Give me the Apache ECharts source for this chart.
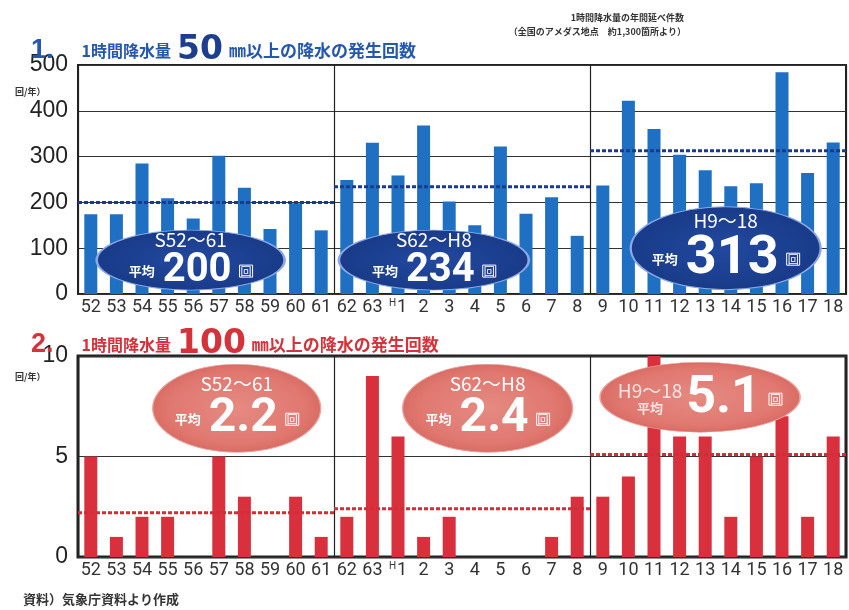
<!DOCTYPE html>
<html>
<head>
<meta charset="utf-8">
<script src="https://cdn.jsdelivr.net/npm/echarts@6/dist/echarts.min.js"></script>
<style>
  html, body { margin: 0; padding: 0; background: #fff; }
  #main { width: 849px; height: 610px; }
</style>
</head>
<body>
<div id="main"></div>
<script>
// years (Showa 52 .. 63, Heisei 1 .. 18)
var years = ['52', '53', '54', '55', '56', '57', '58', '59', '60', '61',
             '62', '63', 'H1', '2', '3', '4', '5', '6', '7', '8',
             '9', '10', '11', '12', '13', '14', '15', '16', '17', '18'];

// 1 hour rainfall >= 50mm, count per year
var over50 = [174, 174, 285, 209, 165, 302, 232, 142, 198, 139,
              249, 330, 259, 368, 202, 150, 322, 175, 211, 127,
              237, 422, 360, 304, 270, 235, 242, 484, 264, 331];

// 1 hour rainfall >= 100mm, count per year
var over100 = [5, 1, 2, 2, 0, 5, 3, 0, 3, 1,
               2, 9, 6, 1, 2, 0, 0, 0, 1, 3,
               3, 4, 10, 6, 6, 2, 5, 7, 2, 6];

var periods = ['S52～61', 'S62～H8', 'H9～18'];
var periodFrom = [0, 10, 20];
var periodTo = [10, 20, 30];
var avg50 = [200, 234, 313];
var avg100 = ['2.2', '2.4', '5.1'];

// where the average bubbles sit (in axis units) and how big they are
var ovals50 = [
  { x: 4.4, y: 74, w: 188, h: 60, big: 40 },
  { x: 13.9, y: 74, w: 190, h: 60, big: 40 },
  { x: 25.3, y: 100, w: 190, h: 83, big: 54 }
];
var ovals100 = [
  { x: 6.2, y: 7.4, w: 168, h: 88, big: 48 },
  { x: 16.0, y: 7.4, w: 170, h: 88, big: 48 },
  { x: 24.3, y: 7.95, w: 200, h: 70, big: 52, side: true }
];

var blue = '#1f70c2';
var red = '#d8313d';

var myChart = echarts.init(document.getElementById('main'));

function xLabelFmt(v) {
  return v === 'H1' ? '{h|H}1' : v;
}

var xLabel = {
  interval: 0,
  margin: 4,
  color: '#333',
  fontSize: 18,
  fontFamily: 'Roboto',
  formatter: xLabelFmt,
  rich: { h: { fontSize: 10, color: '#333', fontFamily: 'Roboto', verticalAlign: 'top', padding: [0, 1, 8, 0] } }
};

function yAxisOpt(grid, max, interval) {
  return {
    gridIndex: grid, type: 'value', min: 0, max: max, interval: interval,
    axisLine: { show: false }, axisTick: { show: false },
    axisLabel: { color: '#222', fontSize: 23, fontFamily: 'Liberation Sans', margin: 10 },
    splitLine: { show: true, lineStyle: { color: '#333', width: 1 } }
  };
}

function hiddenX(grid) {
  return {
    gridIndex: grid, type: 'value', min: 0, max: 30, interval: 10,
    axisLine: { show: false }, axisTick: { show: false }, axisLabel: { show: false },
    splitLine: { show: true, lineStyle: { color: '#222', width: 1.2 } }
  };
}

function richFor(big) {
  return {
    p: { color: '#fff', fontSize: 19, fontFamily: 'Noto Sans CJK JP', lineHeight: 22 },
    s: { color: '#fff', fontSize: 13, fontWeight: 'bold', fontFamily: 'Noto Sans CJK JP' },
    n: { color: '#fff', fontSize: big, fontWeight: 'bold', fontFamily: 'Roboto', lineHeight: big, padding: [0, 8] },
    u: { color: '#fff', fontSize: 11, fontFamily: 'Noto Sans CJK JP', borderColor: '#fff', borderWidth: 1, padding: [1, 1, 0, 1] }
  };
}

var series = [];

series.push({
  type: 'bar', xAxisIndex: 0, yAxisIndex: 0, data: over50, barWidth: 13,
  itemStyle: { color: blue }, z: 2
});
series.push({
  type: 'bar', xAxisIndex: 2, yAxisIndex: 1, data: over100, barWidth: 13,
  itemStyle: { color: red }, z: 2
});

// dotted average lines for each period
periods.forEach(function(p, i) {
  series.push({
    type: 'line', xAxisIndex: 1, yAxisIndex: 0, symbol: 'none', silent: true, z: 3,
    data: [[periodFrom[i], avg50[i]], [periodTo[i], avg50[i]]],
    lineStyle: { color: '#1a3a8c', width: 3, type: [4, 2] }
  });
  series.push({
    type: 'line', xAxisIndex: 3, yAxisIndex: 1, symbol: 'none', silent: true, z: 3,
    data: [[periodFrom[i], +avg100[i]], [periodTo[i], +avg100[i]]],
    lineStyle: { color: '#d52c3a', width: 3, type: [4, 2] }
  });
});

// average bubbles
ovals50.forEach(function(o, i) {
  series.push({
    type: 'scatter', xAxisIndex: 1, yAxisIndex: 0, z: 5, silent: true,
    symbol: 'circle', symbolSize: [o.w, o.h],
    itemStyle: {
      opacity: 1,
      color: { type: 'radial', x: 0.5, y: 0.5, r: 0.5, colorStops: [{ offset: 0, color: '#2249a0' }, { offset: 1, color: '#193b88' }] },
      borderColor: '#8aa8e6', borderWidth: 1.5
    },
    label: {
      show: true, position: 'inside', align: 'center',
      formatter: '{p|' + periods[i] + '}\n{s|平均}{n|' + avg50[i] + '}{u|回}',
      rich: richFor(o.big)
    },
    data: [[o.x, o.y]]
  });
});

ovals100.forEach(function(o, i) {
  var fmt = o.side ? '{n|' + avg100[i] + '}{u|回}'
                   : '{p|' + periods[i] + '}\n{s|平均}{n|' + avg100[i] + '}{u|回}';
  series.push({
    type: 'scatter', xAxisIndex: 3, yAxisIndex: 1, z: 5, silent: true,
    symbol: 'circle', symbolSize: [o.w, o.h],
    itemStyle: {
      opacity: 1,
      color: { type: 'radial', x: 0.5, y: 0.5, r: 0.5, colorStops: [{ offset: 0, color: '#e58a82' }, { offset: 0.8, color: '#e07870' }, { offset: 1, color: '#d96c65' }] },
      borderColor: '#e9a39c', borderWidth: 1
    },
    label: {
      show: true, position: 'inside', align: 'center',
      offset: o.side ? [30, 2] : [0, 0],
      formatter: fmt,
      rich: richFor(o.big)
    },
    data: [[o.x, o.y]]
  });
  if (o.side) {
    series.push({
      type: 'scatter', xAxisIndex: 3, yAxisIndex: 1, z: 6, silent: true,
      symbolSize: 0,
      label: {
        show: true, position: 'inside', align: 'center', offset: [-50, 0],
        formatter: '{p|' + periods[i] + '}\n{s|平均}',
        rich: richFor(o.big)
      },
      data: [[o.x, o.y]]
    });
  }
});

var titleRich = function(col, numCol) {
  return {
    a: { fontSize: 27, fontWeight: 'bold', color: col, fontFamily: 'Liberation Sans', padding: [0, 28, 0, 0] },
    b: { fontSize: 16, fontWeight: 'bold', color: col, fontFamily: 'Noto Sans CJK JP' },
    c: { fontSize: 33, fontWeight: 'bold', color: numCol, fontFamily: 'DejaVu Sans', padding: [0, 6, 0, 6] },
    m: { fontSize: 17, fontWeight: 'bold', color: col, fontFamily: 'Noto Sans CJK JP' }
  };
};

var noteStyle = { fontSize: 9, fontWeight: 'bold', color: '#333', fontFamily: 'Noto Sans CJK JP' };

var option = {
  animation: false,
  backgroundColor: '#fff',
  title: [
    {
      text: '{a|1.}{b|1時間降水量}{c|50}{m|㎜以上の降水の発生回数}',
      left: 26, top: 29,
      textStyle: { rich: titleRich('#2557ae', '#1d3e8e') }
    },
    {
      text: '{a|2.}{b|1時間降水量}{c|100}{m|㎜以上の降水の発生回数}',
      left: 26, top: 323,
      textStyle: { rich: titleRich('#d4333b', '#d4333b') }
    },
    { text: '1時間降水量の年間延べ件数', right: 160, top: 8, textStyle: noteStyle },
    { text: '（全国のアメダス地点　約1,300箇所より）', right: 158, top: 22, textStyle: noteStyle },
    { text: '回/年）', left: 10, top: 82, textStyle: noteStyle },
    { text: '回/年）', left: 10, top: 367, textStyle: noteStyle },
    {
      text: '資料）気象庁資料より作成', left: 18, top: 588,
      textStyle: { fontSize: 13, fontWeight: 'bold', color: '#333', fontFamily: 'Noto Sans CJK JP' }
    }
  ],
  grid: [
    { left: 78, right: 3, top: 65, bottom: 316, show: true, borderColor: '#222', borderWidth: 2, backgroundColor: 'transparent' },
    { left: 78, right: 3, top: 356, bottom: 53, show: true, borderColor: '#222', borderWidth: 3, backgroundColor: 'transparent' }
  ],
  xAxis: [
    { gridIndex: 0, type: 'category', data: years, axisLine: { show: false }, axisTick: { show: false }, axisLabel: xLabel },
    hiddenX(0),
    { gridIndex: 1, type: 'category', data: years, axisLine: { show: false }, axisTick: { show: false }, axisLabel: xLabel },
    hiddenX(1)
  ],
  yAxis: [yAxisOpt(0, 500, 100), yAxisOpt(1, 10, 5)],
  series: series
};

myChart.setOption(option);
</script>
</body>
</html>
